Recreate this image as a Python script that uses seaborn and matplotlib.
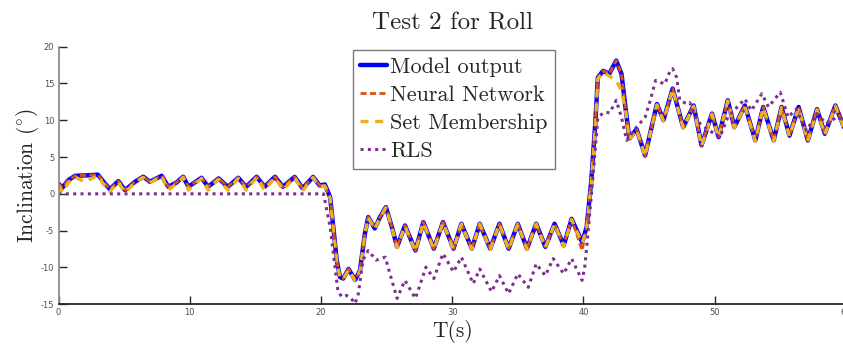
import matplotlib
matplotlib.use("Agg")
import matplotlib.pyplot as plt
import seaborn as sns
import pandas as pd

# ---------------- data ----------------
t_main = [0.00, 0.29, 0.75, 1.26, 2.00, 3.00, 3.54, 3.92, 4.56, 5.07, 5.83, 6.46, 6.97,
          7.86, 8.37, 9.00, 9.50, 9.90, 10.90, 11.40, 12.20, 12.90, 13.70, 14.30, 15.10,
          15.70, 16.50, 17.10, 18.00, 18.60, 19.40, 19.90, 20.30, 20.70, 20.94, 21.20,
          21.45, 21.70, 22.10, 22.60, 22.97, 23.35, 23.60, 24.10, 24.50, 24.95, 25.40,
          25.80, 26.40, 27.20, 27.80, 28.60, 29.30, 30.10, 30.70, 31.50, 32.10, 32.90,
          33.60, 34.30, 35.00, 35.70, 36.40, 37.10, 37.80, 38.50, 39.10, 39.90, 40.25,
          40.60, 40.90, 41.10, 41.50, 41.97, 42.50, 42.90, 43.20, 43.50, 44.05, 44.70,
          45.60, 46.10, 46.80, 47.60, 48.40, 49.00, 49.80, 50.30, 51.00, 51.50, 52.30,
          53.10, 53.70, 54.50, 55.10, 55.70, 56.40, 57.10, 57.80, 58.40, 59.20, 60.00]

model_output = [1.40, 0.83, 1.86, 2.45, 2.50, 2.60, 1.40, 0.63, 1.73, 0.50, 1.64, 2.32, 1.64,
                2.45, 0.96, 1.55, 2.32, 0.96, 2.18, 0.96, 2.09, 0.96, 2.18, 0.96, 2.32,
                0.96, 2.32, 0.96, 2.30, 0.75, 2.30, 1.14, 1.27, -0.45, -4.50, -9.00,
                -11.30, -11.50, -10.20, -11.70, -10.40, -5.40, -3.16, -4.70, -3.16, -1.80, -4.50,
                -7.20, -4.30, -7.70, -3.84, -7.45, -3.84, -7.45, -4.06, -7.45, -4.06, -7.45,
                -4.06, -7.45, -4.06, -7.45, -4.06, -7.20, -4.06, -7.00, -3.40, -6.55, -4.50,
                1.80, 9.50, 15.80, 16.70, 16.30, 18.10, 16.30, 11.80, 7.50, 8.80, 5.20,
                12.20, 10.00, 14.30, 9.05, 12.00, 6.60, 10.90, 7.70, 12.70, 9.05, 12.00,
                7.25, 11.80, 7.25, 11.80, 7.90, 11.80, 7.25, 11.50, 8.15, 12.00, 8.40]

neural_network = [1.40, 0.83, 1.86, 2.45, 2.50, 2.60, 1.40, 0.63, 1.73, 0.50, 1.64, 2.32, 1.64,
                  2.45, 0.96, 1.55, 2.32, 0.96, 2.18, 0.96, 2.09, 0.96, 2.18, 0.96, 2.32,
                  0.96, 2.32, 0.96, 2.30, 0.75, 2.30, 1.14, 0.90, -0.45, -4.50, -9.00,
                  -11.30, -11.50, -10.20, -11.70, -10.40, -5.40, -3.16, -4.70, -3.16, -1.80, -4.50,
                  -7.20, -4.30, -7.70, -3.84, -7.45, -3.84, -7.45, -4.06, -7.45, -4.06, -7.45,
                  -4.06, -7.45, -4.06, -7.45, -4.06, -7.20, -4.06, -7.00, -3.40, -7.70, -4.50,
                  1.80, 9.50, 15.80, 16.70, 16.30, 18.10, 16.30, 11.80, 7.50, 8.80, 5.20,
                  12.20, 10.00, 14.30, 9.05, 12.00, 6.60, 10.90, 7.70, 12.70, 9.05, 12.00,
                  7.25, 11.80, 7.25, 11.80, 7.90, 11.80, 7.25, 11.50, 8.15, 12.00, 8.40]

set_membership = [1.20, 0.20, 1.50, 2.30, 1.60, 2.50, 1.00, 0.30, 1.60, 0.20, 1.50, 2.25, 1.50,
                  2.40, 0.50, 1.40, 2.25, 0.50, 2.10, 0.50, 2.00, 0.50, 2.10, 0.50, 2.25,
                  0.50, 2.25, 0.50, 2.20, 0.40, 2.20, 1.00, 1.10, -0.60, -4.70, -9.20,
                  -11.40, -11.60, -10.30, -11.80, -10.50, -5.50, -3.20, -4.80, -3.20, -1.90, -4.60,
                  -7.30, -4.40, -7.80, -3.90, -7.55, -3.90, -7.55, -4.10, -7.55, -4.10, -7.55,
                  -4.10, -7.55, -4.10, -7.55, -4.10, -7.30, -4.10, -7.10, -3.50, -6.70, -4.70,
                  1.50, 9.20, 15.60, 16.50, 16.00, 15.40, 14.00, 11.50, 7.40, 8.70, 5.10,
                  12.10, 9.90, 14.20, 8.95, 11.90, 6.50, 10.80, 7.60, 12.60, 8.95, 11.90,
                  7.15, 11.70, 7.15, 11.70, 7.80, 11.70, 7.15, 11.40, 8.05, 11.90, 8.30]

t_rls = [0.00, 20.20, 20.70, 21.10, 21.30, 21.60, 21.95, 22.30, 22.60, 22.85, 23.20, 23.60,
         24.20, 24.90, 25.40, 25.80, 26.40, 27.20, 28.00, 28.60, 29.30, 30.10, 30.70, 31.60,
         32.10, 33.00, 33.60, 34.30, 35.00, 35.80, 36.40, 37.10, 37.70, 38.50, 39.10, 39.90,
         40.10, 40.30, 40.75, 41.10, 41.60, 42.00, 42.50, 42.90, 43.30, 44.05, 44.70, 45.10,
         45.50, 45.80, 46.20, 46.60, 46.80, 47.10, 47.35, 47.90, 48.10, 48.60, 48.90, 49.60,
         50.40, 51.00, 52.30, 52.80, 53.60, 54.10, 55.00, 55.60, 56.20, 57.00, 57.80, 58.50,
         59.30, 60.00]
rls = [0.00, 0.00, -4.50, -10.40, -13.30, -14.00, -13.80, -14.20, -14.90, -13.55, -9.00, -7.70,
       -9.00, -8.60, -11.75, -14.20, -11.75, -14.20, -9.95, -11.50, -8.10, -10.60, -8.60, -12.20,
       -10.20, -13.30, -11.10, -13.55, -10.85, -12.70, -9.50, -11.10, -8.80, -10.85, -8.80, -11.75,
       -9.95, -6.30, 2.70, 10.40, 11.10, 11.00, 12.70, 10.40, 7.25, 9.05, 10.40, 12.70,
       15.40, 15.20, 14.90, 16.70, 17.00, 15.80, 12.70, 12.20, 12.40, 10.40, 9.50, 8.60,
       7.70, 10.40, 12.90, 11.30, 13.60, 11.80, 13.80, 10.40, 11.50, 8.60, 10.90, 9.50,
       10.40, 9.90]

x_ticks = [0, 10, 20, 30, 40, 50, 60]
y_ticks = [-15, -10, -5, 0, 5, 10, 15, 20]
title_text = "Test 2 for Roll"
x_label = "T(s)"
y_label = r"Inclination $(^{\circ})$"
series_names = ["Model output", "Neural Network", "Set Membership", "RLS"]

# ---------------- figure ----------------
sns.set_theme(style="white")
plt.rcParams["font.family"] = ["DejaVu Sans"]
plt.rcParams["mathtext.fontset"] = "cm"
serif = ["cmr10", "DejaVu Serif"]

fig = plt.figure(figsize=(8.43, 3.45), dpi=100)
ax = fig.add_axes([0.0694, 0.118, 0.934, 0.747])

df_main = pd.DataFrame({"t": t_main, "model": model_output, "nn": neural_network,
                        "sm": set_membership})
df_rls = pd.DataFrame({"t": t_rls, "rls": rls})

sns.lineplot(data=df_main, x="t", y="model", ax=ax, color="#0000FF", linewidth=3.2,
             estimator=None, sort=False, label=series_names[0])
sns.lineplot(data=df_main, x="t", y="nn", ax=ax, color="#D95319", linewidth=2.0,
             linestyle=(0, (2.2, 1.2)), estimator=None, sort=False, label=series_names[1])
sns.lineplot(data=df_main, x="t", y="sm", ax=ax, color="#EDB120", linewidth=2.4,
             linestyle=(0, (2.4, 2.0)), estimator=None, sort=False, label=series_names[2])
sns.lineplot(data=df_rls, x="t", y="rls", ax=ax, color="#7E2F8E", linewidth=2.2,
             linestyle=(0, (1, 1.4)), estimator=None, sort=False, label=series_names[3])

ax.set_xlim(0, 60)
ax.set_ylim(-15, 20)
ax.set_xticks(x_ticks)
ax.set_yticks(y_ticks)
ax.set_xticklabels([str(v) for v in x_ticks])
ax.set_yticklabels([str(v) for v in y_ticks])

for s in ["top", "right"]:
    ax.spines[s].set_visible(False)
ax.spines["left"].set_color("#8c8c8c")
ax.spines["left"].set_linewidth(1.3)
ax.spines["bottom"].set_color("#262626")
ax.spines["bottom"].set_linewidth(1.3)
ax.tick_params(axis="both", which="major", direction="in", length=6, width=1.0,
               color="#262626", labelcolor="#4d4d4d", labelsize=6, pad=3,
               bottom=True, left=True)

ax.set_title(title_text, fontsize=18, family=serif, pad=12)
ax.set_xlabel(x_label, fontsize=15.5, family=serif, labelpad=2)
ax.set_ylabel(y_label, fontsize=15.5, family=serif, labelpad=0)

leg = ax.legend(loc="upper left", bbox_to_anchor=(0.374, 0.988),
                prop={"family": serif, "size": 16}, frameon=True, fancybox=False,
                handlelength=1.2, handletextpad=0.15, labelspacing=0.39,
                borderpad=0.33, borderaxespad=0.0)
leg.get_frame().set_edgecolor("#5a5a5a")
leg.get_frame().set_linewidth(1.0)

fig.savefig("out.png", dpi=100)
